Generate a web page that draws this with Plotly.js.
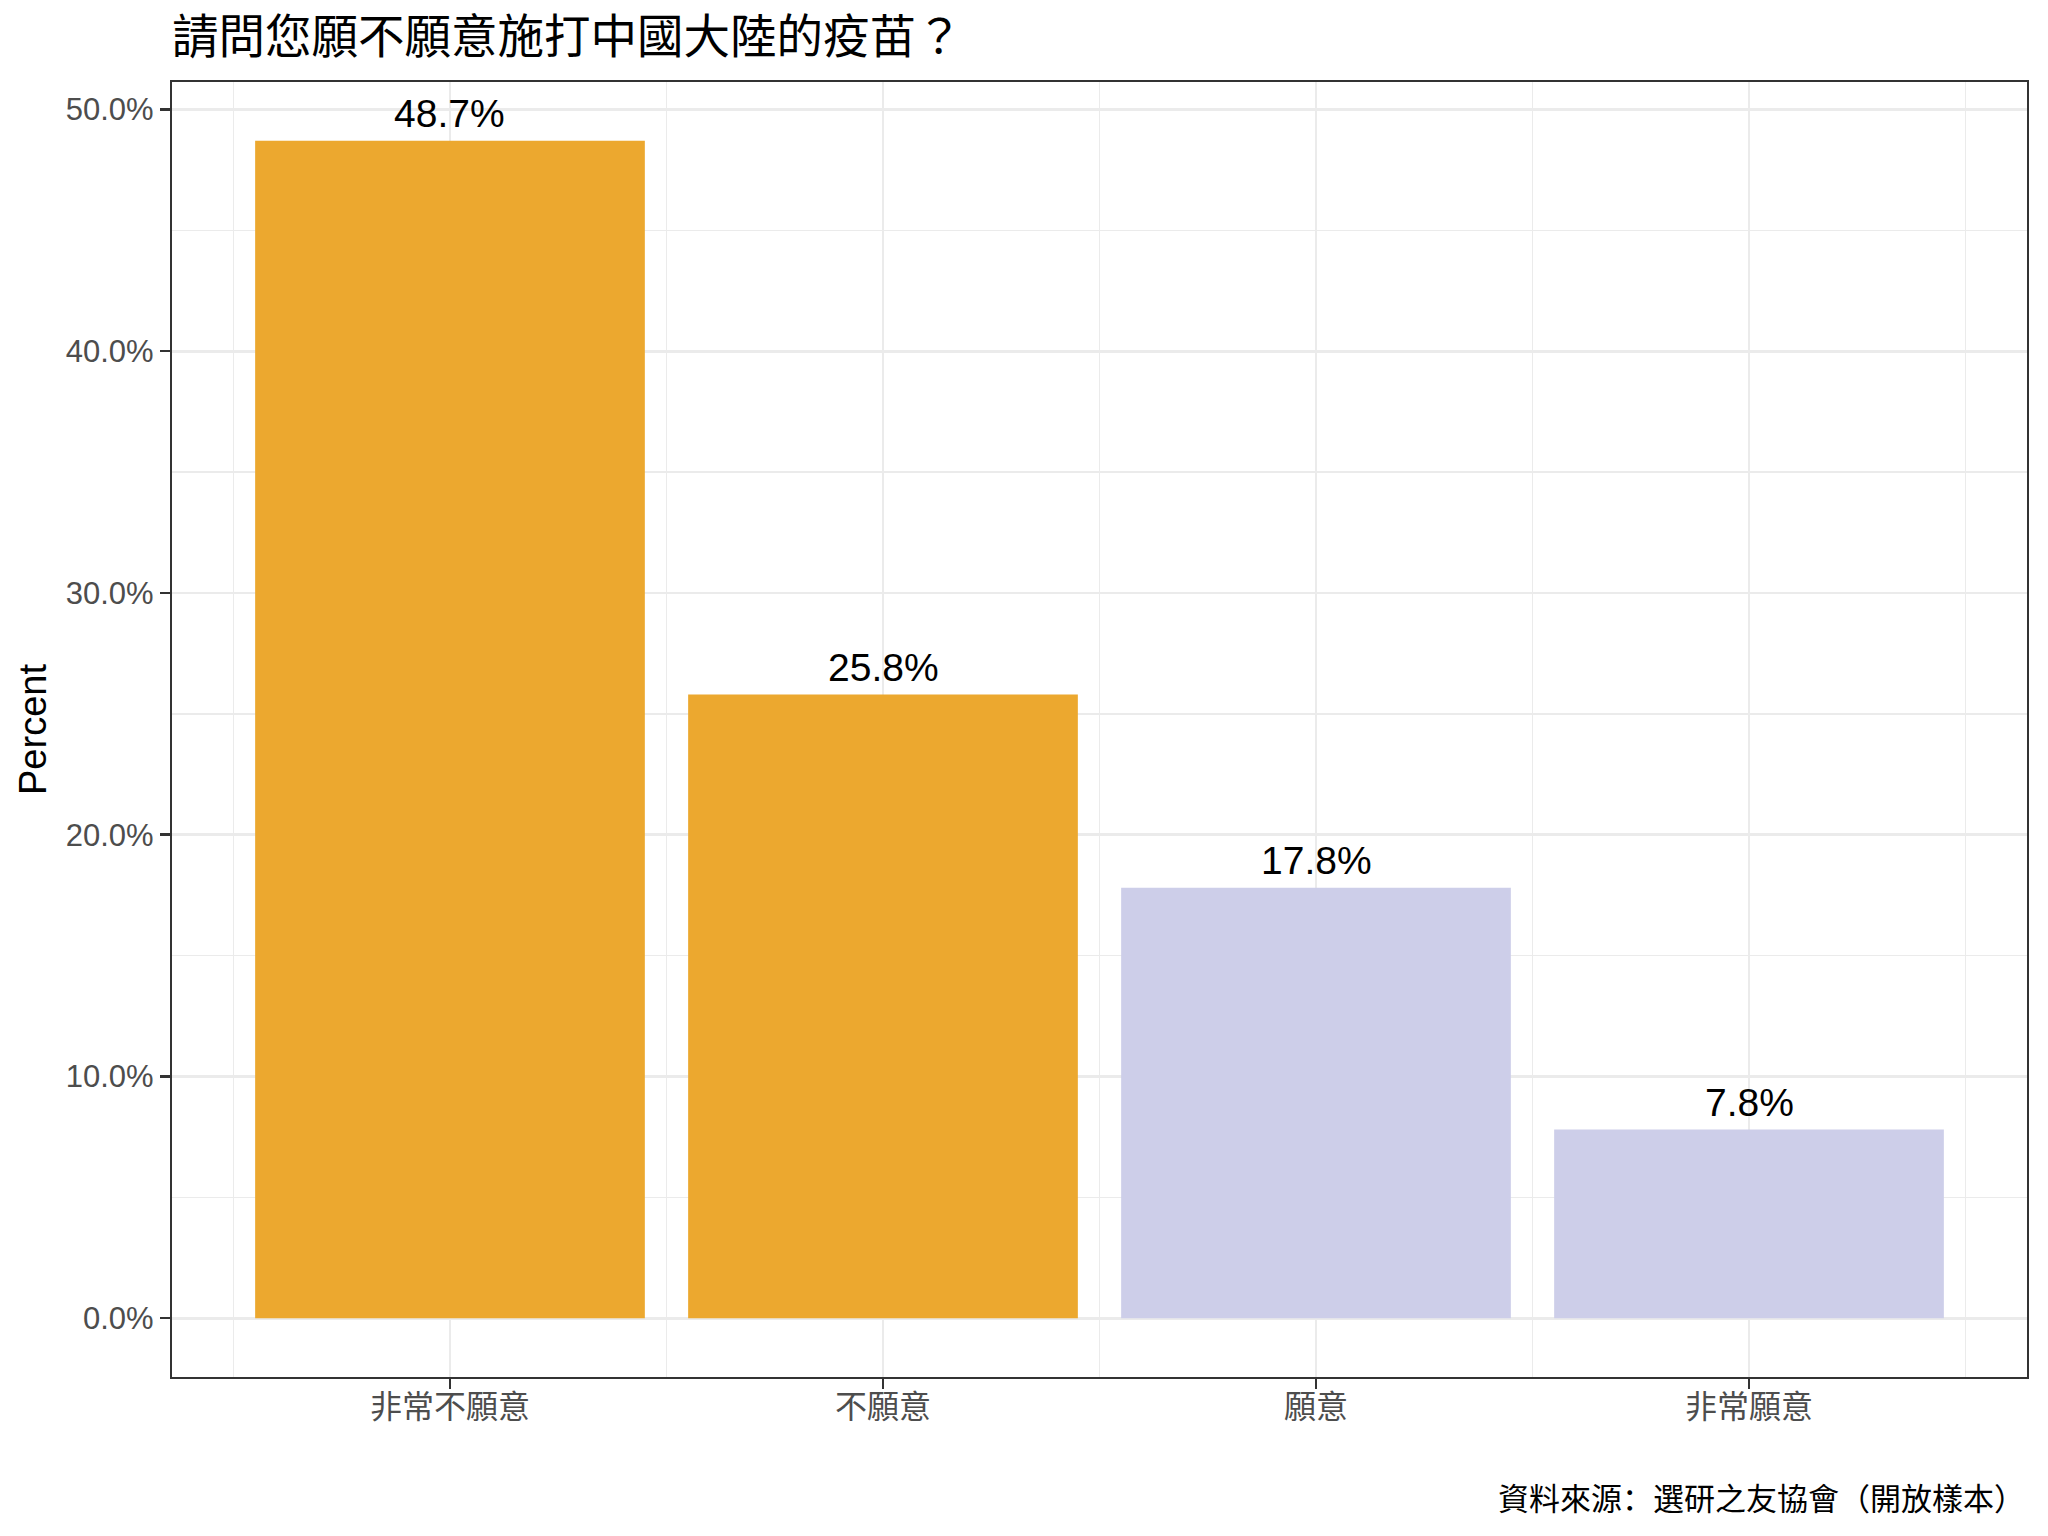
<!DOCTYPE html>
<html>
<head>
<meta charset="utf-8">
<script src="https://cdn.plot.ly/plotly-3.0.1.min.js"></script>
<style>html,body{margin:0;padding:0;background:#fff;}#chart{width:2048px;height:1536px;}</style>
</head>
<body>
<div id="chart"></div>
<script>
const categories = ["非常不願意", "不願意", "願意", "非常願意"];
const percents = [48.7, 25.8, 17.8, 7.8];
const barColors = ["#ECA82F", "#ECA82F", "#CDCEE9", "#CDCEE9"];
const yTicks = [0, 10, 20, 30, 40, 50];
const titleText = "請問您願不願意施打中國大陸的疫苗？";
const yTitle = "Percent";
const captionText = "資料來源：選研之友協會（開放樣本）";

const FONT = "Liberation Sans, Arial, Noto Sans CJK TC, sans-serif";
const CJK = "Noto Sans CJK TC, Liberation Sans, sans-serif";
const CAPFONT = "Noto Sans CJK SC, Noto Sans CJK TC, sans-serif";
const idx = categories.map((c, i) => i);

const trace = {
  type: "bar",
  x: idx,
  y: percents,
  marker: {color: barColors, line: {width: 0}},
  hoverinfo: "skip"
};

const labelAnnotations = percents.map((v, i) => ({
  x: idx[i], y: v, xref: "x", yref: "y",
  text: v.toFixed(1) + "%",
  showarrow: false,
  xanchor: "center", yanchor: "middle", yshift: 27,
  font: {family: FONT, size: 39, color: "#000000"}
}));

const layout = {
  width: 2048,
  height: 1536,
  paper_bgcolor: "#ffffff",
  plot_bgcolor: "#ffffff",
  margin: {l: 172, r: 21, t: 82, b: 159, pad: 0},
  bargap: 0.1,
  showlegend: false,
  font: {family: FONT, color: "#000000"},
  title: {
    text: titleText,
    font: {family: CJK, size: 46.5, color: "#000000"},
    xref: "paper", x: 0, xanchor: "left",
    yref: "container", y: 0.976, yanchor: "middle"
  },
  xaxis: {
    range: [-0.642, 3.642],
    tickmode: "array",
    tickvals: idx,
    ticktext: categories,
    tickfont: {family: CJK, size: 32, color: "#4D4D4D"},
    ticks: "outside", ticklen: 10, tickwidth: 2.5, tickcolor: "#333333",
    ticklabelstandoff: -10,
    showgrid: true, gridcolor: "#EBEBEB", gridwidth: 2.8,
    minor: {tick0: 0.5, dtick: 1, showgrid: true, gridcolor: "#EBEBEB", gridwidth: 1.5, ticks: ""},
    zeroline: false,
    showline: true, linecolor: "#333333", linewidth: 2.2, mirror: true,
    fixedrange: true
  },
  yaxis: {
    range: [-2.435, 51.135],
    tickmode: "array",
    tickvals: yTicks,
    ticktext: yTicks.map(v => v.toFixed(1) + "%"),
    tickfont: {family: FONT, size: 31, color: "#4D4D4D"},
    ticks: "outside", ticklen: 10, tickwidth: 2.5, tickcolor: "#333333",
    showgrid: true, gridcolor: "#EBEBEB", gridwidth: 2.8,
    minor: {tick0: 5, dtick: 10, showgrid: true, gridcolor: "#EBEBEB", gridwidth: 1.5, ticks: ""},
    zeroline: false,
    showline: true, linecolor: "#333333", linewidth: 2.2, mirror: true,
    title: {text: yTitle, font: {family: FONT, size: 38, color: "#000000"}, standoff: 7},
    fixedrange: true
  },
  annotations: labelAnnotations.concat([{
    text: captionText,
    xref: "paper", yref: "paper",
    x: 1, xanchor: "right",
    y: -0.0923, yanchor: "middle",
    showarrow: false,
    font: {family: CAPFONT, size: 31, color: "#000000"}
  }])
};

Plotly.newPlot("chart", [trace], layout, {displayModeBar: false, staticPlot: true});
</script>
</body>
</html>
